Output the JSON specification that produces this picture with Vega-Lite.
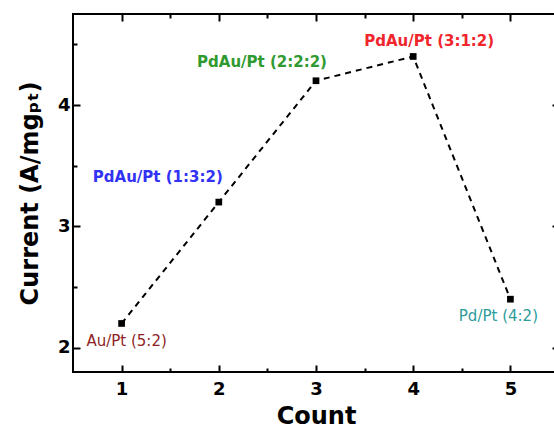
{
  "$schema": "https://vega.github.io/schema/vega-lite/v6.json",
  "autosize": {"type": "none"},
  "padding": {"left": 73, "top": 14, "right": 0, "bottom": 58},
  "width": 486,
  "height": 358,
  "background": "white",
  "config": {
    "view": {"stroke": "black", "strokeWidth": 2},
    "axis": {
      "domain": false,
      "grid": false,
      "tickColor": "black",
      "tickWidth": 2,
      "labelFont": "DejaVu Sans",
      "labelFontSize": 18,
      "labelFontWeight": "bold",
      "labelColor": "black",
      "titleFont": "DejaVu Sans",
      "titleFontWeight": "bold",
      "titleFontSize": 24,
      "titleColor": "black"
    }
  },
  "data": {
    "values": [
      {"count": 1, "current": 2.2, "label": "Au/Pt (5:2)"},
      {"count": 2, "current": 3.2, "label": "PdAu/Pt (1:3:2)"},
      {"count": 3, "current": 4.2, "label": "PdAu/Pt (2:2:2)"},
      {"count": 4, "current": 4.4, "label": "PdAu/Pt (3:1:2)"},
      {"count": 5, "current": 2.4, "label": "Pd/Pt (4:2)"}
    ]
  },
  "resolve": {"axis": {"x": "independent", "y": "independent"}},
  "layer": [
    {
      "mark": {"type": "line", "color": "black", "strokeWidth": 2, "strokeDash": [6, 5]},
      "encoding": {
        "x": {"field": "count", "type": "quantitative",
              "scale": {"domain": [0.5, 5.5], "nice": false, "zero": false},
              "axis": {"orient": "bottom", "values": [1, 2, 3, 4, 5], "tickSize": -7, "labelPadding": 15, "title": "Count", "titlePadding": 6}},
        "y": {"field": "current", "type": "quantitative",
              "scale": {"domain": [1.8, 4.75], "nice": false, "zero": false},
              "axis": {"orient": "left", "values": [2, 3, 4], "tickSize": -7, "labelPadding": 10, "title": "Current (A/mgₚₜ)", "titlePadding": 15}}
      }
    },
    {
      "mark": {"type": "point", "shape": "square", "filled": true, "color": "black", "size": 45, "opacity": 1},
      "encoding": {
        "x": {"field": "count", "type": "quantitative",
              "axis": {"orient": "bottom", "values": [1.5, 2.5, 3.5, 4.5], "tickSize": -4, "labels": false, "title": null}},
        "y": {"field": "current", "type": "quantitative",
              "axis": {"orient": "left", "values": [2.5, 3.5, 4.5], "tickSize": -4, "labels": false, "title": null}}
      }
    },
    {
      "transform": [{"filter": "datum.count == 1"}],
      "mark": {"type": "text", "color": "#8e1f24", "font": "DejaVu Sans", "fontSize": 15, "fontWeight": "normal", "align": "center", "baseline": "middle", "dx": 5, "dy": 18},
      "encoding": {
        "x": {"field": "count", "type": "quantitative",
              "axis": {"orient": "top", "values": [1, 2, 3, 4, 5], "tickSize": -7, "labels": false, "title": null}},
        "y": {"field": "current", "type": "quantitative",
              "axis": {"orient": "right", "values": [2, 3, 4], "tickSize": -7, "labels": false, "title": null}},
        "text": {"field": "label"}
      }
    },
    {
      "transform": [{"filter": "datum.count == 2"}],
      "mark": {"type": "text", "color": "#3232f5", "font": "DejaVu Sans", "fontSize": 15, "fontWeight": "bold", "align": "center", "baseline": "middle", "dx": -61, "dy": -25},
      "encoding": {
        "x": {"field": "count", "type": "quantitative",
              "axis": {"orient": "top", "values": [1.5, 2.5, 3.5, 4.5], "tickSize": -4, "labels": false, "title": null}},
        "y": {"field": "current", "type": "quantitative",
              "axis": {"orient": "right", "values": [2.5, 3.5, 4.5], "tickSize": -4, "labels": false, "title": null}},
        "text": {"field": "label"}
      }
    },
    {
      "transform": [{"filter": "datum.count == 3"}],
      "mark": {"type": "text", "color": "#2f9a2f", "font": "DejaVu Sans", "fontSize": 15, "fontWeight": "bold", "align": "center", "baseline": "middle", "dx": -54, "dy": -19},
      "encoding": {
        "x": {"field": "count", "type": "quantitative", "axis": null},
        "y": {"field": "current", "type": "quantitative", "axis": null},
        "text": {"field": "label"}
      }
    },
    {
      "transform": [{"filter": "datum.count == 4"}],
      "mark": {"type": "text", "color": "#f0262c", "font": "DejaVu Sans", "fontSize": 15, "fontWeight": "bold", "align": "center", "baseline": "middle", "dx": 16, "dy": -15},
      "encoding": {
        "x": {"field": "count", "type": "quantitative", "axis": null},
        "y": {"field": "current", "type": "quantitative", "axis": null},
        "text": {"field": "label"}
      }
    },
    {
      "transform": [{"filter": "datum.count == 5"}],
      "mark": {"type": "text", "color": "#2b9c9a", "font": "DejaVu Sans", "fontSize": 15, "fontWeight": "normal", "align": "center", "baseline": "middle", "dx": -12, "dy": 17},
      "encoding": {
        "x": {"field": "count", "type": "quantitative", "axis": null},
        "y": {"field": "current", "type": "quantitative", "axis": null},
        "text": {"field": "label"}
      }
    }
  ]
}
